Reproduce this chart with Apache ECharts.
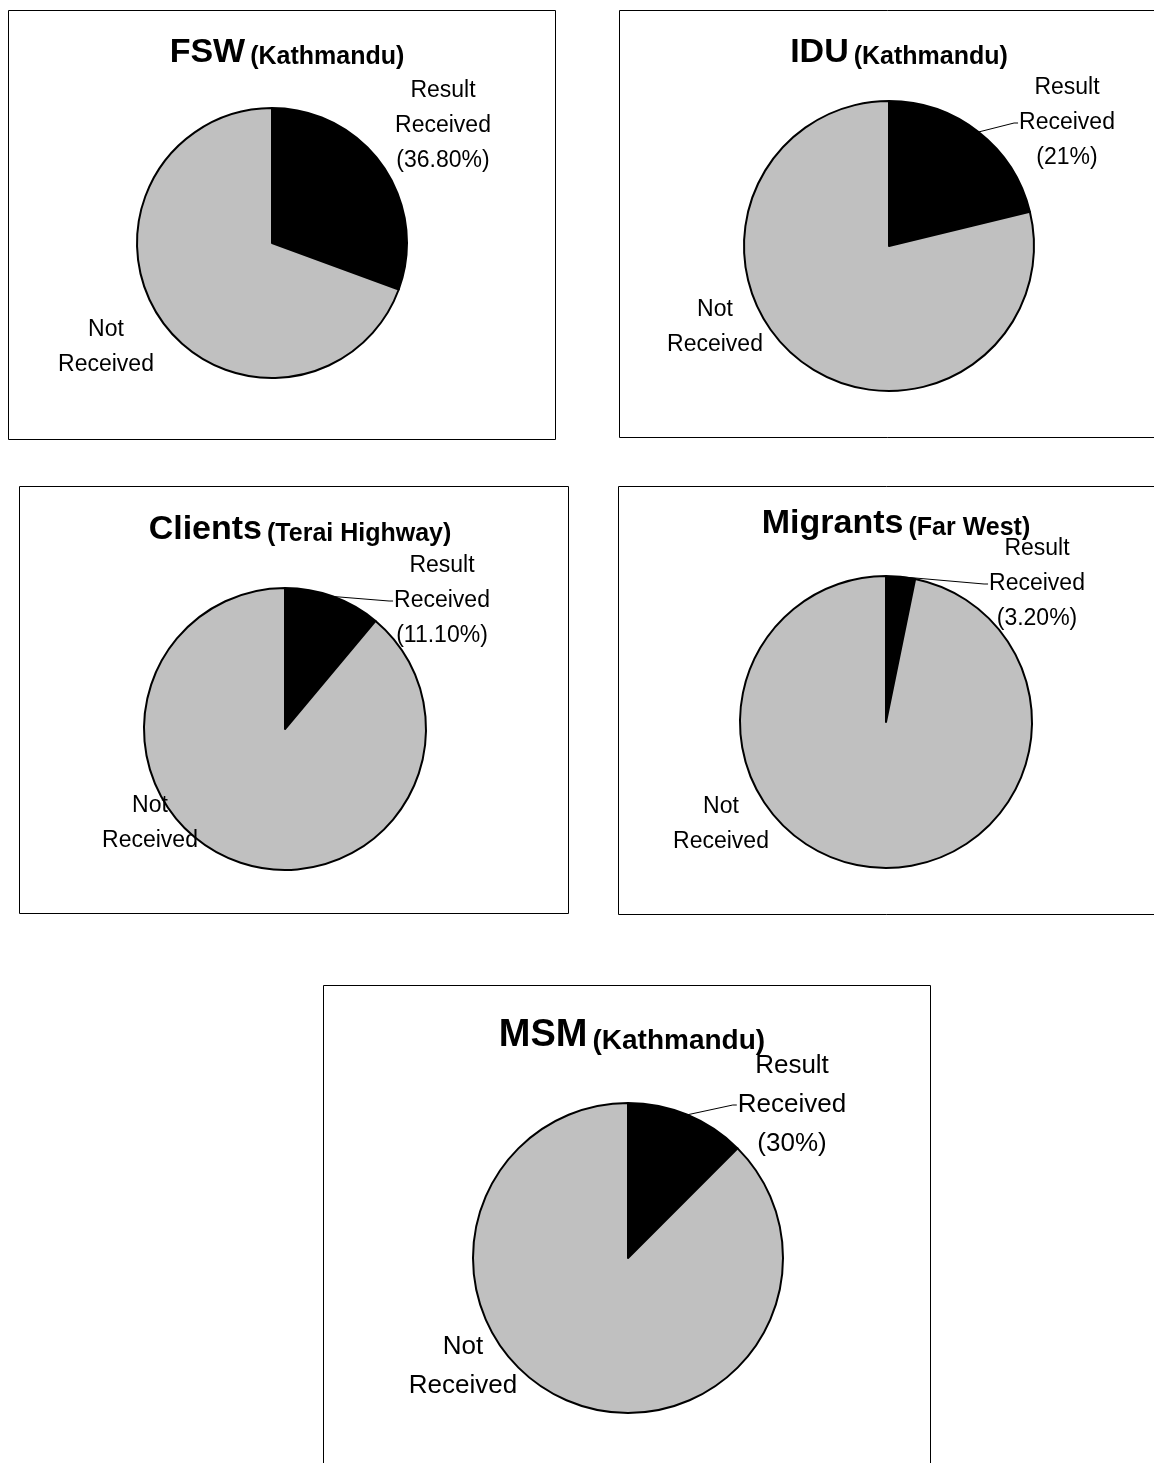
<!DOCTYPE html>
<html>
<head>
<meta charset="utf-8">
<script src="https://cdn.jsdelivr.net/npm/echarts@6/dist/echarts.min.js"></script>
<style>
  html, body { margin: 0; padding: 0; background: #fff; }
  #chart { width: 1154px; height: 1463px; }
</style>
</head>
<body>
<div id="chart"></div>
<script>
// data
const groups = ['FSW', 'IDU', 'Clients', 'Migrants', 'MSM'];
const places = ['Kathmandu', 'Kathmandu', 'Terai Highway', 'Far West', 'Kathmandu'];
const categories = ['Result Received', 'Not Received'];
const resultShare = [30.6, 21.2, 11.1, 3.2, 12.5];   // black slice, as drawn
const notShare = [69.4, 78.8, 88.9, 96.8, 87.5];     // grey slice, as drawn
const resultText = ['36.80%', '21%', '11.10%', '3.20%', '30%']; // printed labels

// layout of each framed panel (px), k = text scale
const panels = [
  { box: [8, 10, 547, 429], c: [272, 243], r: 135, title: [282, 48], res: [443, 126], not: [106, 347], line: false, k: 1 },
  { box: [619, 10, 545, 427], c: [889, 246], r: 145, title: [894, 48], res: [1067, 123], not: [715, 327], line: true, k: 1 },
  { box: [19, 486, 549, 427], c: [285, 729], r: 141, title: [295, 525], res: [442, 601], not: [150, 823], line: true, k: 1 },
  { box: [618, 486, 545, 428], c: [886, 722], r: 146, title: [891, 519], res: [1037, 584], not: [721, 824], line: true, k: 1 },
  { box: [323, 985, 607, 490], c: [628, 1258], r: 155, title: [627, 1031], res: [792, 1105], not: [463, 1366], line: true, k: 1.13 }
];

const font = '"Liberation Sans", Arial, sans-serif';
const chart = echarts.init(document.getElementById('chart'));

const titles = groups.map((g, i) => ({
  text: '{a|' + g + '} {b|(' + places[i] + ')}',
  left: panels[i].title[0],
  top: panels[i].title[1],
  textAlign: 'center',
  textVerticalAlign: 'middle',
  textStyle: {
    rich: {
      a: { fontFamily: font, fontSize: Math.round(34 * panels[i].k), fontWeight: 'bold', color: '#000', verticalAlign: 'bottom' },
      b: { fontFamily: font, fontSize: Math.round(25 * panels[i].k), fontWeight: 'bold', color: '#000', verticalAlign: 'bottom' }
    }
  }
}));

const boxes = panels.map(p => ({
  type: 'rect',
  z: 0,
  shape: { x: p.box[0] + 0.5, y: p.box[1] + 0.5, width: p.box[2], height: p.box[3] },
  style: { fill: '#fff', stroke: '#000', lineWidth: 1 }
}));

const series = groups.map((g, i) => {
  const p = panels[i];
  return {
    type: 'pie',
    center: p.c,
    radius: p.r,
    startAngle: 90,
    clockwise: true,
    avoidLabelOverlap: false,
    silent: true,
    itemStyle: { borderColor: '#000', borderWidth: 2 },
    label: {
      show: true,
      position: 'outside',
      fontFamily: font,
      fontSize: Math.round(23 * p.k),
      lineHeight: Math.round(34.5 * p.k),
      color: '#000',
      align: 'center'
    },
    labelLine: { show: false, lineStyle: { color: '#000', width: 1 } },
    labelLayout: function (params) {
      if (params.dataIndex === 0) {
        const w = params.labelRect.width;
        const ex = p.res[0] - w / 2 - 1;
        const pts = params.labelLinePoints;
        const out = { x: p.res[0], y: p.res[1], align: 'center', verticalAlign: 'middle' };
        if (pts && p.line) {
          out.labelLinePoints = [pts[0], [ex - 4, p.res[1]], [ex, p.res[1]]];
        }
        return out;
      }
      return { x: p.not[0], y: p.not[1], align: 'center', verticalAlign: 'middle' };
    },
    data: [
      {
        name: categories[0],
        value: resultShare[i],
        itemStyle: { color: '#000' },
        label: { formatter: 'Result\nReceived\n(' + resultText[i] + ')' },
        labelLine: { show: p.line, length: 10, length2: 10 }
      },
      {
        name: categories[1],
        value: notShare[i],
        itemStyle: { color: '#c0c0c0' },
        label: { formatter: 'Not\nReceived' },
        labelLine: { show: false }
      }
    ]
  };
});

chart.setOption({
  backgroundColor: '#fff',
  animation: false,
  title: titles,
  graphic: { elements: boxes },
  series: series
});
</script>
</body>
</html>
